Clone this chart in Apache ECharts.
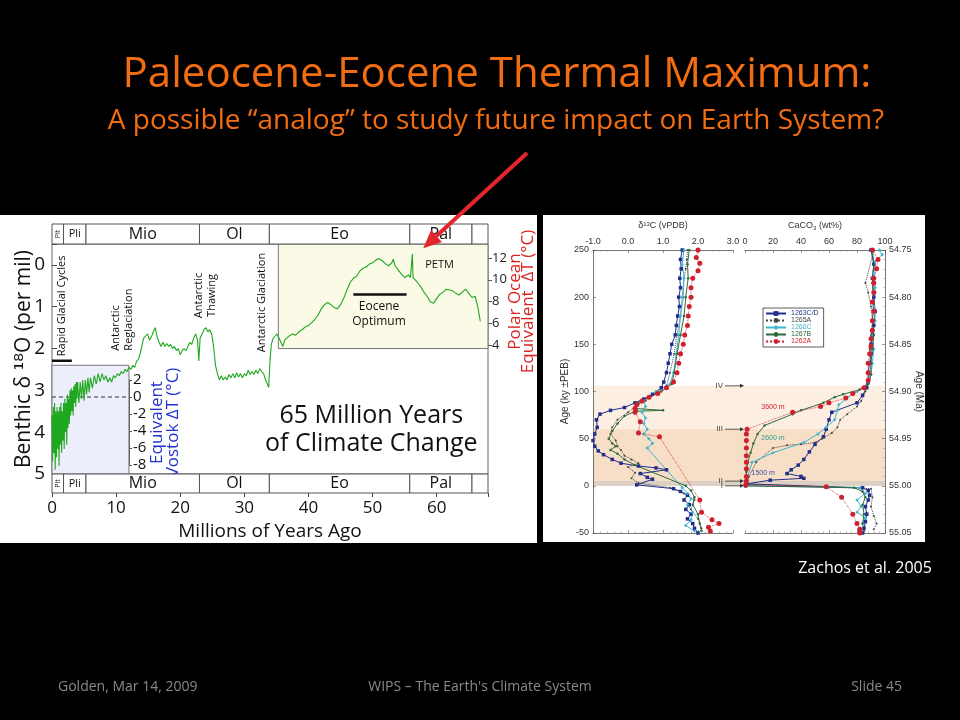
<!DOCTYPE html>
<html><head><meta charset="utf-8">
<script src="https://cdn.jsdelivr.net/npm/echarts@6/dist/echarts.min.js"></script>
<style>html,body{margin:0;padding:0;background:#000}#c{width:960px;height:720px}</style>
</head><body><div id="c"></div>
<script>
// ================= DATA =================
// Geologic epochs (Ma)
const epochNames  = ['Plt','Pli','Mio','Ol','Eo','Pal',''];
const epochBounds = [0, 1.8, 5.3, 23.0, 33.9, 55.8, 65.5, 68];

// Benthic d18O record [age Ma, d18O per mil]
const benthic = [
 [0.0,3.6],[0.1,4.7],[0.2,3.4],[0.3,4.5],[0.4,3.3],[0.5,4.9],[0.6,3.5],[0.7,4.6],[0.8,3.4],[0.9,4.4],
 [1.0,3.5],[1.1,4.8],[1.2,3.4],[1.3,4.3],[1.4,3.3],[1.5,4.5],[1.6,3.5],[1.7,4.2],[1.8,3.3],[1.9,4.4],
 [2.0,3.2],[2.1,4.0],[2.2,3.3],[2.3,4.3],[2.4,3.1],[2.5,3.9],[2.6,3.2],[2.7,3.8],[2.8,3.0],[2.9,3.6],
 [3.0,2.95],[3.1,3.5],[3.2,3.0],[3.3,3.6],[3.4,2.9],[3.5,3.3],[3.6,2.85],[3.7,3.4],[3.8,2.8],[3.9,3.2],
 [4.0,2.8],[4.2,3.3],[4.4,2.8],[4.6,3.2],[4.8,2.75],[5.0,3.25],[5.2,2.75],[5.4,3.1],[5.6,2.7],[5.8,3.05],
 [6.0,2.7],[6.3,2.95],[6.6,2.65],[6.9,2.85],[7.2,2.6],[7.5,2.8],[7.8,2.6],[8.1,2.75],[8.4,2.65],[8.7,2.8],
 [9.0,2.7],[9.3,2.8],[9.6,2.65],[9.9,2.7],[10.2,2.6],[10.5,2.65],[10.8,2.55],[11.1,2.6],[11.4,2.5],[11.7,2.55],
 [12.0,2.45],[12.3,2.5],[12.6,2.4],[12.9,2.45],[13.2,2.3],[13.5,2.25],[13.8,2.1],[14.0,1.95],[14.3,1.75],[14.6,1.7],
 [14.9,1.65],[15.2,1.8],[15.5,1.72],[15.8,1.6],[16.1,1.5],[16.4,1.72],[16.7,1.85],[17.0,1.95],[17.3,1.85],[17.6,1.95],
 [17.9,1.88],[18.2,1.95],[18.5,1.9],[18.8,2.0],[19.1,1.95],[19.4,2.05],[19.7,2.0],[20.0,2.15],[20.3,2.05],[20.6,2.0],
 [20.9,2.05],[21.2,1.95],[21.5,1.85],[21.8,1.9],[22.1,1.75],[22.4,1.65],[22.7,1.8],[22.9,2.3],[23.1,1.75],[23.4,1.65],
 [23.7,1.55],[24.0,1.5],[24.3,1.6],[24.6,1.55],[24.9,1.65],[25.2,1.95],[25.5,2.4],[25.8,2.6],[26.1,2.75],[26.4,2.65],
 [26.7,2.75],[27.0,2.68],[27.3,2.75],[27.6,2.62],[27.9,2.7],[28.2,2.6],[28.5,2.7],[28.8,2.58],[29.1,2.68],[29.4,2.6],
 [29.7,2.7],[30.0,2.6],[30.3,2.65],[30.6,2.52],[30.9,2.62],[31.2,2.55],[31.5,2.62],[31.8,2.52],[32.1,2.6],[32.4,2.48],
 [32.7,2.55],[33.0,2.6],[33.3,2.75],[33.6,2.85],[33.8,2.93],[34.0,2.3],[34.2,1.9],[34.5,1.75],[34.8,1.7],[35.1,1.65],
 [35.4,1.75],[35.7,1.85],[36.0,1.95],[36.3,1.8],[36.6,1.75],[37.0,1.7],[37.5,1.65],[38.0,1.68],[38.5,1.6],[39.0,1.55],
 [39.5,1.48],[40.0,1.45],[40.5,1.38],[41.0,1.3],[41.5,1.2],[42.0,1.05],[42.5,0.95],[43.0,0.9],[43.5,0.95],[44.0,1.02],
 [44.5,1.05],[45.0,0.95],[45.5,0.8],[46.0,0.6],[46.5,0.42],[47.0,0.32],[47.5,0.27],[48.0,0.15],[48.5,0.08],[49.0,0.05],
 [49.5,-0.02],[50.0,-0.05],[50.5,-0.12],[51.0,-0.15],[51.5,-0.1],[52.0,-0.03],[52.5,0.02],[53.0,-0.05],[53.2,-0.14],[53.5,0.02],
 [54.0,0.12],[54.5,0.22],[55.0,0.3],[55.3,0.28],[55.6,0.24],[55.9,0.3],[56.1,0.31],[56.2,-0.26],[56.3,0.3],[56.6,0.35],
 [57.0,0.42],[57.5,0.52],[58.0,0.65],[58.5,0.75],[59.0,0.88],[59.5,0.92],[60.0,0.8],[60.5,0.7],[61.0,0.65],[61.5,0.58],
 [62.0,0.6],[62.5,0.62],[63.0,0.68],[63.5,0.72],[64.0,0.65],[64.5,0.58],[65.0,0.68],[65.5,0.78],[66.0,0.75],[66.4,1.0],[66.8,1.35]
];
// reference bars / lines
const rapidGlacialBar  = [[0,2.29],[3.1,2.29]];
const eoceneOptimumBar = [[47,0.71],[55.3,0.71]];
const vostokZeroLine   = [[0,0],[12,0]];
const vostokBox = [[0,2.4],[12,5]];       // age, d18O
const polarBox  = [[35.3,-0.5],[68,2.0]];

// Right panel: ODP sites
const siteNames  = ['1263C/D','1265A','1266C','1267B','1262A'];
// d13C [permil, ky rel. PEB]
const d13C_1263 = [[1.55,250],[1.5,240],[1.52,230],[1.48,220],[1.5,210],[1.45,200],[1.47,190],[1.42,180],[1.38,170],[1.35,160],[1.25,150],[1.2,140],[1.15,130],[1.1,120],[1.02,110],[0.95,104],[0.7,97],[0.45,92],[0.2,88],[-0.1,83],[-0.5,80],[-0.8,76],[-0.9,70],[-0.88,62],[-0.95,55],[-1.0,48],[-0.95,42],[-0.85,37],[-0.7,33],[-0.45,28],[-0.2,24],[0.3,21],[0.8,19],[1.1,17],[0.35,13],[0.55,9],[0.7,7],[0.25,1],[1.3,-3],[1.5,-6],[1.7,-10],[1.6,-15],[1.75,-20],[1.65,-25],[1.8,-30],[1.7,-35],[1.85,-40],[1.9,-45],[2.0,-50]];
const d13C_1265 = [[1.7,250],[1.68,240],[1.65,230],[1.6,220],[1.58,200],[1.5,180],[1.4,160],[1.32,140],[1.2,120],[1.1,106],[0.8,98],[0.5,90],[0.2,84],[0.0,78],[-0.3,70],[-0.45,62],[-0.5,55],[-0.35,48],[-0.3,42],[-0.2,38],[-0.1,32],[0.1,28],[0.3,24],[0.0,20],[0.2,14],[0.1,8],[0.3,3],[1.2,-2],[1.6,-8],[1.9,-15],[1.8,-25],[2.0,-35],[2.1,-45]];
const d13C_1266 = [[1.6,250],[1.55,235],[1.6,220],[1.55,200],[1.5,180],[1.45,160],[1.38,140],[1.3,120],[1.2,108],[0.8,100],[0.6,95],[0.45,90],[0.5,84],[0.4,78],[0.5,72],[0.45,66],[0.55,60],[0.45,55],[0.6,50],[0.7,45],[0.55,40],[1.55,-2],[1.7,-8],[1.8,-14],[1.7,-20],[1.85,-28],[1.8,-36],[1.65,-42],[1.9,-48]];
const d13C_1267 = [[1.75,250],[1.7,235],[1.72,220],[1.65,200],[1.6,180],[1.5,160],[1.4,140],[1.32,120],[1.25,108],[0.95,100],[0.6,94],[0.3,88],[0.2,82],[0.25,80],[1.0,80],[0.2,79],[-0.1,74],[-0.3,66],[-0.45,58],[-0.55,50],[-0.45,45],[-0.35,42],[-0.5,38],[-0.3,34],[-0.1,28],[0.2,22],[1.65,0],[1.8,-5],[1.9,-12],[1.85,-20],[2.0,-30],[2.05,-40],[2.1,-48]];
const d13C_1262 = [[2.0,250],[1.95,242],[2.05,236],[2.0,228],[1.85,220],[1.8,210],[1.8,200],[1.75,190],[1.72,180],[1.7,170],[1.62,160],[1.58,150],[1.5,140],[1.45,130],[1.4,120],[1.3,110],[1.1,104],[0.85,98],[0.6,94],[0.4,90],[0.25,86],[0.2,82],[0.2,78],[0.35,68],[0.3,56],[0.9,52],[2.05,-15],[2.1,-28],[2.4,-36],[2.6,-40],[2.3,-44],[2.35,-48]];
// CaCO3 [wt%, ky rel. PEB]
const caco3_1263 = [[90,250],[92,235],[91,220],[92,200],[93,185],[92,170],[91,160],[90,150],[90,140],[89,130],[88,120],[88,110],[87,104],[84,96],[80,88],[62,78],[60,70],[58,60],[56,52],[50,44],[46,36],[42,28],[38,22],[33,17],[30,13],[40,10],[42,8],[18,6],[1,2],[0.5,0],[84,-2],[88,-5],[89,-10],[88,-15],[86,-22],[87,-30],[86,-38],[85,-45],[84,-50]];
const caco3_1265 = [[92,250],[86,215],[88,205],[90,190],[91,175],[90,160],[89,145],[90,130],[89,118],[87,108],[86,100],[83,90],[80,84],[73,76],[68,70],[66,62],[62,56],[55,50],[50,46],[40,44],[30,43],[20,40],[8,25],[3,10],[1,2],[90,-3],[91,-12],[90,-22],[92,-32],[94,-40],[92,-46]];
const caco3_1266 = [[96,250],[98,245],[93,238],[92,225],[93,210],[92,190],[93,175],[91,160],[92,145],[91,130],[90,118],[88,108],[80,100],[72,92],[67,86],[66,80],[64,70],[58,62],[52,55],[42,46],[20,35],[5,25],[2,10],[1,3],[0.5,0],[82,-2],[86,-8],[80,-15],[83,-22],[80,-28],[86,-34],[84,-40]];
const caco3_1267 = [[91,250],[92,235],[91,215],[92,195],[91,175],[92,160],[91,145],[90,130],[90,118],[88,108],[82,102],[70,97],[64,94],[56,88],[40,80],[34,76],[14,64],[9,55],[6,45],[4,35],[2,25],[1,15],[0.5,5],[0.5,0],[78,-2],[84,-6],[86,-12],[84,-20],[85,-30],[84,-40],[85,-48]];
const caco3_1262 = [[91,250],[95,240],[94,230],[92,220],[92,215],[92,205],[91,195],[92,185],[91,175],[91,165],[90,156],[90,148],[89,140],[88,130],[88,120],[88,112],[85,104],[77,98],[72,93],[60,88],[54,84],[34,78],[1.5,60],[1,55],[1,48],[1,40],[1,32],[1,25],[1,18],[1,10],[1,5],[0.5,1],[58,-1],[69,-12],[77,-30],[80,-40],[82,-46],[82,-50]];
// PETM intervals (ky) and stage markers
const bandRanges   = [[0,106],[0,60],[0,5]];
const romanLabels  = ['IV','III','II','I'];
const romanAges    = [106, 60, 5, 0];
const depthLabels  = ['3600 m','2600 m','1500 m'];
const depthAnchors = [[20,84],[20,51],[13,14]];

// ================= CHART =================
const chart = echarts.init(document.getElementById('c'));
const FA = "'Open Sans','DejaVu Sans',sans-serif";
const FB = "'Liberation Sans','DejaVu Sans',sans-serif";
const siteColors = ['#1f2f8a','#444444','#3fb6d0','#2d6b3c','#d0202e'];

function epochSeries(xi, yi){
  return {
    type:'custom', xAxisIndex:xi, yAxisIndex:yi, silent:true, z:3,
    data: epochNames.map((n,i)=>[epochBounds[i], epochBounds[i+1]]),
    renderItem:(params, api)=>{
      const p0 = api.coord([api.value(0), 1]);
      const p1 = api.coord([api.value(1), 0]);
      const name = epochNames[params.dataIndex];
      const w = p1[0]-p0[0], h = p1[1]-p0[1];
      const fs = w < 14 ? 7 : (w < 30 ? 11 : 16);
      return {type:'group', children:[
        {type:'rect', shape:{x:p0[0], y:p0[1], width:w, height:h}, style:{fill:'#fff', stroke:'#555', lineWidth:1}},
        {type:'text', x:p0[0]+w/2, y:p0[1]+h/2, rotation: w<14 ? Math.PI/2 : 0,
          style:{text:name, align:'center', verticalAlign:'middle', fontSize:fs, fontFamily:FA, fill:'#111'}}
      ]};
    }
  };
}

const rAxisBase = {
  axisLine:{show:true, onZero:false, lineStyle:{color:'#555', width:0.8}},
  axisTick:{show:true, inside:true, length:3, lineStyle:{color:'#555', width:0.6}},
  minorTick:{show:true, splitNumber:5, length:1.5, lineStyle:{color:'#777', width:0.5}},
  splitLine:{show:false}
};

function siteSeries(i, data, xi, yi){
  const styles = [
    {symbol:'rect', size:3.5, type:'solid', w:1},
    {symbol:'circle', size:2, type:'dotted', w:1},
    {symbol:'diamond', size:3.5, type:'solid', w:1},
    {symbol:'circle', size:2.5, type:'solid', w:1},
    {symbol:'circle', size:5, type:'dotted', w:0.8}
  ][i];
  return {name:siteNames[i], type:'line', xAxisIndex:xi, yAxisIndex:yi, data:data,
    symbol:styles.symbol, symbolSize:styles.size, showSymbol:true,
    lineStyle:{color:siteColors[i], width:styles.w, type:styles.type},
    itemStyle:{color:siteColors[i]}, z: 5 + (i===4?1:0), clip:true, silent:true};
}

const option = {
  animation:false,
  backgroundColor:'#000',
  grid:[
    {left:52, top:244, width:436, height:230, show:true, borderColor:'#666', borderWidth:1, backgroundColor:'#fff'},
    {left:52, top:224, width:436, height:20},
    {left:52, top:474, width:436, height:19},
    {left:52, top:380, width:77, height:85},
    {left:276, top:258, width:212, height:87},
    {left:593, top:250, width:140, height:283},
    {left:745, top:250, width:140, height:283}
  ],
  xAxis:[
    {gridIndex:0, type:'value', min:0, max:68, show:false},
    {gridIndex:1, type:'value', min:0, max:68, show:false},
    {gridIndex:2, type:'value', min:0, max:68, interval:10, position:'bottom',
      axisLine:{show:false, onZero:false}, axisTick:{show:true, length:4, lineStyle:{color:'#444'}}, splitLine:{show:false},
      axisLabel:{fontSize:17, color:'#111', fontFamily:FA, margin:7, formatter:v=> v%10===0 ? String(v) : ''},
      name:'Millions of Years Ago', nameLocation:'middle', nameGap:29,
      nameTextStyle:{fontSize:19, color:'#111', fontFamily:FA}},
    {gridIndex:3, type:'value', min:0, max:12, show:false},
    {gridIndex:4, type:'value', min:0, max:1, show:false},
    Object.assign({gridIndex:5, type:'value', min:-1, max:3, interval:1, position:'top',
      axisLabel:{fontSize:9, color:'#333', fontFamily:FB, margin:4, formatter:v=>v.toFixed(1)},
      name:'{a|δ}{s|13}{a|C (vPDB)}', nameLocation:'middle', nameGap:19,
      nameTextStyle:{rich:{a:{fontSize:9, color:'#333', fontFamily:FB}, s:{fontSize:6, color:'#333', fontFamily:FB, verticalAlign:'top', padding:[0,0,4,0]}}}}, rAxisBase),
    Object.assign({gridIndex:5, type:'value', min:-1, max:3, interval:1, position:'bottom', axisLabel:{show:false}}, rAxisBase),
    Object.assign({gridIndex:6, type:'value', min:0, max:100, interval:20, position:'top',
      axisLabel:{fontSize:9, color:'#333', fontFamily:FB, margin:4},
      name:'{a|CaCO}{b|3}{a| (wt%)}', nameLocation:'middle', nameGap:19,
      nameTextStyle:{rich:{a:{fontSize:9, color:'#333', fontFamily:FB}, b:{fontSize:6, color:'#333', fontFamily:FB, verticalAlign:'bottom', padding:[4,0,0,0]}}}}, rAxisBase),
    Object.assign({gridIndex:6, type:'value', min:0, max:100, interval:20, position:'bottom', axisLabel:{show:false}}, rAxisBase)
  ],
  yAxis:[
    {gridIndex:0, type:'value', min:-0.5, max:5, inverse:true, splitNumber:5,
      axisLine:{show:false, onZero:false}, axisTick:{show:true, inside:true, length:5, lineStyle:{color:'#444'}}, splitLine:{show:false},
      axisLabel:{fontSize:19, color:'#111', fontFamily:FA, margin:7, formatter:v=> Number.isInteger(v) ? String(v) : ''},
      name:'{a|Benthic δ }{s|¹⁸}{a|O (per mil)}', nameLocation:'middle', nameGap:17, nameRotate:90, nameMoveOverlap:false,
      nameTextStyle:{rich:{a:{fontSize:21, color:'#111', fontFamily:FA}, s:{fontSize:22, color:'#111', fontFamily:"'DejaVu Sans',sans-serif"}}}},
    {gridIndex:1, type:'value', min:0, max:1, show:false},
    {gridIndex:2, type:'value', min:0, max:1, show:false},
    {gridIndex:3, type:'value', min:-8, max:2, interval:2, position:'right',
      axisLine:{show:true, onZero:false, lineStyle:{color:'#555'}}, axisTick:{show:true, length:3, lineStyle:{color:'#555'}}, splitLine:{show:false},
      axisLabel:{fontSize:15, color:'#111', fontFamily:FA, margin:4},
      name:'Equivalent\nVostok ΔT (°C)', nameLocation:'middle', nameGap:20, nameRotate:90, nameMoveOverlap:false,
      nameTextStyle:{fontSize:17, color:'#2233cc', fontFamily:FA, lineHeight:16}},
    {gridIndex:4, type:'value', min:4, max:12, interval:2, position:'right',
      axisLine:{show:false, onZero:false}, axisTick:{show:true, length:4, lineStyle:{color:'#555'}}, splitLine:{show:false},
      axisLabel:{fontSize:13, color:'#222', fontFamily:FA, margin:4},
      name:'Polar Ocean\nEquivalent  ΔT (°C)', nameLocation:'middle', nameGap:21, nameRotate:90, nameMoveOverlap:false,
      nameTextStyle:{fontSize:17, color:'#dd2222', fontFamily:FA, lineHeight:13}},
    Object.assign({gridIndex:5, type:'value', min:-50, max:250, interval:50, position:'left',
      axisLabel:{fontSize:9, color:'#333', fontFamily:FB, margin:4},
      name:'Age (ky ±PEB)', nameLocation:'middle', nameGap:23, nameRotate:90,
      nameTextStyle:{fontSize:10, color:'#333', fontFamily:FB}}, rAxisBase),
    Object.assign({gridIndex:6, type:'value', min:-50, max:250, interval:50, position:'right',
      axisLabel:{fontSize:9, color:'#333', fontFamily:FB, margin:4, formatter:v=>(55 - v/1000).toFixed(2)},
      name:'Age (Ma)', nameLocation:'middle', nameGap:29, nameRotate:-90, nameMoveOverlap:false,
      nameTextStyle:{fontSize:10, color:'#333', fontFamily:FB}}, rAxisBase)
  ],
  legend:{
    data: siteNames.map((n,i)=>({name:n, textStyle:{color:siteColors[i]}})),
    left:763, top:308, orient:'vertical', itemGap:0, itemWidth:20, itemHeight:6,
    textStyle:{fontSize:7, fontFamily:FB}, borderColor:'#333', borderWidth:0.8, padding:[2,5,2,2],
    backgroundColor:'#fff', selectedMode:false
  },
  series:[
    {type:'line', xAxisIndex:0, yAxisIndex:0, data:benthic, showSymbol:false, symbol:'none',
      lineStyle:{color:'#1fa81f', width:1.1}, z:5, silent:true,
      markArea:{silent:true, data:[
        [{coord:vostokBox[0], itemStyle:{color:'#eceefb', borderColor:'#777', borderWidth:1}},{coord:vostokBox[1]}],
        [{coord:polarBox[0], itemStyle:{color:'#fafae6', borderColor:'#777', borderWidth:1}},{coord:polarBox[1]}]
      ]}},
    {type:'line', xAxisIndex:0, yAxisIndex:0, data:rapidGlacialBar, symbol:'none', lineStyle:{color:'#111', width:2.5}, z:6, silent:true},
    {type:'line', xAxisIndex:0, yAxisIndex:0, data:eoceneOptimumBar, symbol:'none', lineStyle:{color:'#111', width:2.5}, z:6, silent:true},
    {type:'line', xAxisIndex:3, yAxisIndex:3, data:vostokZeroLine, symbol:'none', lineStyle:{color:'#333', width:1, type:[4,3]}, z:4, silent:true},
    epochSeries(1,1),
    epochSeries(2,2),
    siteSeries(0, d13C_1263, 5, 5), siteSeries(1, d13C_1265, 5, 5), siteSeries(2, d13C_1266, 5, 5), siteSeries(3, d13C_1267, 5, 5), siteSeries(4, d13C_1262, 5, 5),
    siteSeries(0, caco3_1263, 7, 6), siteSeries(1, caco3_1265, 7, 6), siteSeries(2, caco3_1266, 7, 6), siteSeries(3, caco3_1267, 7, 6), siteSeries(4, caco3_1262, 7, 6)
  ]
};
chart.setOption(option);

// ---------- graphics (text, panels, annotations) ----------
const g = [];
g.push({type:'rect', z:-10, shape:{x:0, y:215, width:537, height:328}, style:{fill:'#fff'}});
g.push({type:'rect', z:-10, shape:{x:543, y:215, width:382, height:327}, style:{fill:'#fff'}});
g.push({type:'text', x:497, y:75, style:{text:'Paleocene-Eocene Thermal Maximum:', align:'center', verticalAlign:'middle', fontSize:42, fontFamily:FA, fill:'#f26d12'}});
g.push({type:'text', x:496, y:121, style:{text:'A possible “analog” to study future impact on Earth System?', align:'center', verticalAlign:'middle', fontSize:28, fontFamily:FA, fill:'#f26d12'}});
g.push({type:'text', x:865, y:568, style:{text:'Zachos et al. 2005', align:'center', verticalAlign:'middle', fontSize:16, fontFamily:FA, fill:'#fff'}});
g.push({type:'text', x:58, y:687, style:{text:'Golden, Mar 14, 2009', align:'left', verticalAlign:'middle', fontSize:14, fontFamily:FA, fill:'#8a8a8a'}});
g.push({type:'text', x:480, y:687, style:{text:'WIPS – The Earth\'s Climate System', align:'center', verticalAlign:'middle', fontSize:14, fontFamily:FA, fill:'#8a8a8a'}});
g.push({type:'text', x:902, y:687, style:{text:'Slide 45', align:'right', verticalAlign:'middle', fontSize:14, fontFamily:FA, fill:'#8a8a8a'}});

// annotations in left plot (placed in data coords)
function px0(p){ return chart.convertToPixel({gridIndex:0}, p); }
function rotText(txt, p, fs, lh, al){
  const q = px0(p);
  g.push({type:'text', x:q[0], y:q[1], rotation:Math.PI/2, z:20,
    style:{text:txt, align:al||'center', verticalAlign:'middle', fontSize:fs, lineHeight:lh, fontFamily:FA, fill:'#111'}});
}
rotText('Rapid Glacial Cycles', [1.6,0.98], 11, 13);
rotText('Antarctic\nReglaciation', [11.0,2.05], 11, 13, 'left');
rotText('Antarctic\nThawing', [23.9,0.73], 11, 13);
rotText('Antarctic Glaciation', [32.8,0.9], 11, 13);
(function(){
  let q = px0([58.2,0.0]);
  g.push({type:'text', x:q[0], y:q[1], z:20, style:{text:'PETM', align:'left', verticalAlign:'middle', fontSize:11, fontFamily:FA, fill:'#111'}});
  q = px0([51,1.17]);
  g.push({type:'text', x:q[0], y:q[1], z:20, style:{text:'Eocene\nOptimum', align:'center', verticalAlign:'middle', fontSize:12, lineHeight:15, fontFamily:FA, fill:'#111'}});
  q = px0([49.8,3.95]);
  g.push({type:'text', x:q[0], y:q[1], z:20, style:{text:'65 Million Years\nof Climate Change', align:'center', verticalAlign:'middle', fontSize:25, lineHeight:28, fontFamily:FA, fill:'#111'}});
  // red arrow pointing at PETM
  const tip = px0([57.9,-0.4]);
  const tail = [527,153];
  const ang = Math.atan2(tip[1]-tail[1], tip[0]-tail[0]);
  const L = 18, W = 8;
  const bx = tip[0]-L*Math.cos(ang), by = tip[1]-L*Math.sin(ang);
  g.push({type:'line', z:30, shape:{x1:tail[0], y1:tail[1], x2:bx, y2:by}, style:{stroke:'#e3262e', lineWidth:4}});
  g.push({type:'polygon', z:30, shape:{points:[tip,[bx+W*Math.sin(ang), by-W*Math.cos(ang)],[bx-W*Math.sin(ang), by+W*Math.cos(ang)]]}, style:{fill:'#e3262e'}});
})();

// right panel bands & markers
(function(){
  const xl = chart.convertToPixel({gridIndex:5}, [-1,0])[0];
  const xr = chart.convertToPixel({gridIndex:6}, [100,0])[0];
  const bandColors = ['#fcefe2','#f7dec6','#dccfc3'];
  bandRanges.forEach((r,i)=>{
    const y1 = chart.convertToPixel({yAxisIndex:6}, r[1]);
    const y0 = chart.convertToPixel({yAxisIndex:6}, r[0]);
    g.push({type:'rect', z:-5, shape:{x:xl, y:y1, width:xr-xl, height:y0-y1}, style:{fill:bandColors[i]}});
  });
  const xg0 = chart.convertToPixel({gridIndex:5}, [3,0])[0];
  const xg1 = chart.convertToPixel({gridIndex:6}, [0,0])[0];
  romanLabels.forEach((t,i)=>{
    const y = chart.convertToPixel({yAxisIndex:6}, romanAges[i]);
    g.push({type:'text', x:xg0-10, y:y, z:20, style:{text:t, align:'right', verticalAlign:'middle', fontSize:8, fontFamily:FB, fill:'#444'}});
    g.push({type:'line', z:20, shape:{x1:xg0-8, y1:y, x2:xg1-3, y2:y}, style:{stroke:'#333', lineWidth:0.8}});
    g.push({type:'polygon', z:20, shape:{points:[[xg1-1,y],[xg1-5,y-2],[xg1-5,y+2]]}, style:{fill:'#333'}});
  });
  const dc = ['#d0202e','#2a9d8f','#3d52a8'];
  depthLabels.forEach((t,i)=>{
    const q = chart.convertToPixel({gridIndex:6}, depthAnchors[i]);
    g.push({type:'text', x:q[0], y:q[1], z:20, style:{text:t, align:'center', verticalAlign:'middle', fontSize:7, fontFamily:FB, fill:dc[i]}});
  });
})();

chart.setOption({graphic:{elements:g}});
</script>
</body></html>
